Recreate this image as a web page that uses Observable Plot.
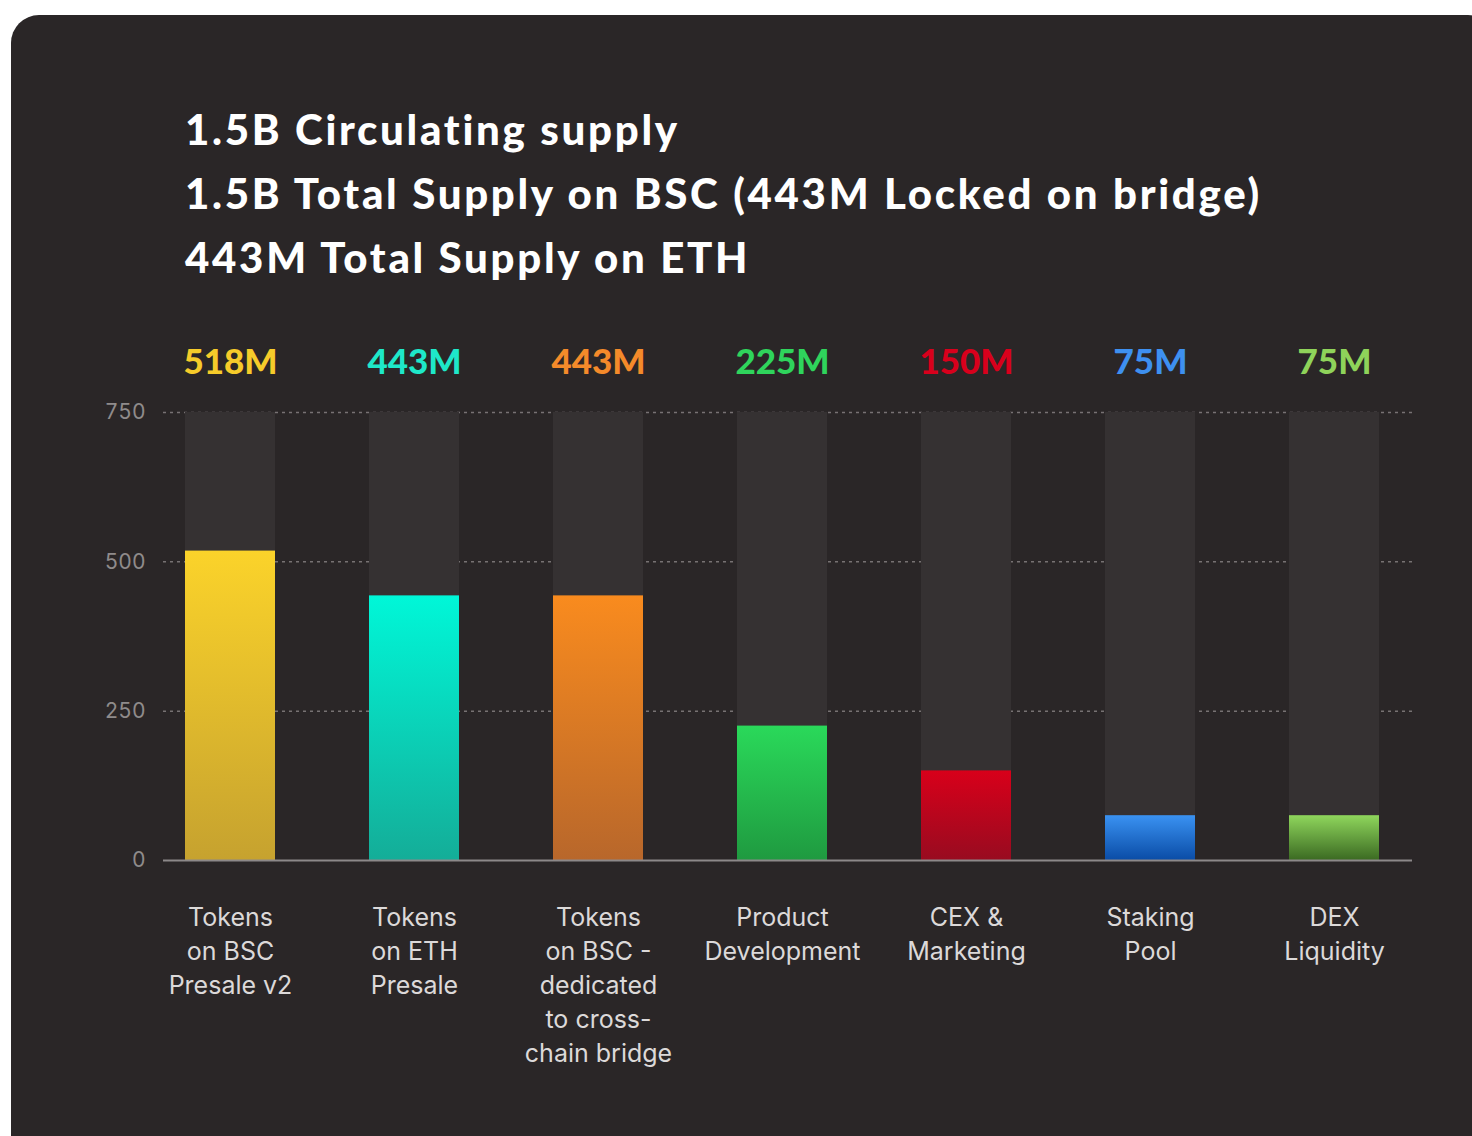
<!DOCTYPE html>
<html>
<head>
<meta charset="utf-8">
<script src="https://cdn.jsdelivr.net/npm/d3@7"></script>
<script src="https://cdn.jsdelivr.net/npm/@observablehq/plot@0.6"></script>
<style>
  html, body { margin: 0; padding: 0; background: #ffffff; width: 1472px; height: 1136px; overflow: hidden; }
  #card { position: absolute; left: 11px; top: 15px; width: 1485px; height: 1150px; background: #2a2627; border-radius: 28px; }
  #title { position: absolute; left: 185px; top: 97px; font-family: "Lato", sans-serif; font-weight: 900; font-size: 42px; line-height: 64px; color: #ffffff; letter-spacing: 2.7px; }
  #title div { white-space: nowrap; }
  #chart { position: absolute; left: 0; top: 300px; }
</style>
</head>
<body>
<div id="card"></div>
<div id="title">
  <div>1.5B Circulating supply</div>
  <div>1.5B Total Supply on BSC (443M Locked on bridge)</div>
  <div>443M Total Supply on ETH</div>
</div>
<div id="chart"></div>
<script>
const categories = ["bsc_v2", "eth_presale", "bsc_bridge", "product", "cex", "staking", "dex"];
const categoryLabels = [
  "Tokens\non BSC\nPresale v2",
  "Tokens\non ETH\nPresale",
  "Tokens\non BSC -\ndedicated\nto cross-\nchain bridge",
  "Product\nDevelopment",
  "CEX &\nMarketing",
  "Staking\nPool",
  "DEX\nLiquidity"
];
const values = [518, 443, 443, 225, 150, 75, 75];
const valueLabels = ["518M", "443M", "443M", "225M", "150M", "75M", "75M"];
const labelColors = ["#f6cb2a", "#1ee8c9", "#f48a2a", "#2fd45c", "#d8001c", "#3e90f0", "#8fd35a"];
const barTopColors = ["#fbd32a", "#00f7d8", "#f98b1e", "#2ad95a", "#d8001a", "#3a92f2", "#8fd65c"];
const barBottomColors = ["#c6a22f", "#14ad98", "#b8672b", "#1f9a40", "#980b20", "#0a4ca6", "#3b6a22"];
const yTicks = [0, 250, 500, 750];
const yMax = 750;

const data = categories.map((c, i) => ({
  cat: c, i, value: values[i], label: valueLabels[i], color: labelColors[i], text: categoryLabels[i]
}));
const labelOf = Object.fromEntries(categories.map((c, i) => [c, categoryLabels[i]]));

const chart = Plot.plot({
  width: 1472,
  height: 800,
  marginTop: 112,
  marginBottom: 240,
  marginLeft: 163,
  marginRight: 60,
  style: { background: "transparent", fontFamily: "Inter, sans-serif", overflow: "visible" },
  x: { domain: categories, paddingInner: 0.512, paddingOuter: 0.141, align: 0.4, axis: null, label: null },
  y: { domain: [0, yMax], axis: null, label: null },
  color: { type: "identity" },
  marks: [
    Plot.ruleY(yTicks.filter(t => t > 0), { stroke: "#777273", strokeWidth: 1.5, strokeDasharray: "3,4" }),
    Plot.barY(data, { x: "cat", y1: 0, y2: yMax, fill: "#353132" }),
    Plot.barY(data, { x: "cat", y: "value", fill: d => `url(#grad${d.i})` }),
    Plot.ruleY([0], { stroke: "#8c8889", strokeWidth: 2 }),
    Plot.text(data, { x: "cat", frameAnchor: "top", dy: -63, text: "label", fill: "color", fontSize: 35, fontWeight: 900, fontFamily: "Lato, sans-serif", letterSpacing: 1.2 }),
    Plot.axisX({ label: null, tickSize: 0, tickPadding: 41, fontSize: 25, lineHeight: 1.36, color: "#dcd9d9", letterSpacing: 1.8, tickFormat: d => labelOf[d] }),
    Plot.axisY({ label: null, ticks: yTicks, tickSize: 0, tickPadding: 18, fontSize: 21, color: "#8f8b8b" })
  ]
});

// vertical gradients for the value bars
const ns = "http://www.w3.org/2000/svg";
const defs = document.createElementNS(ns, "defs");
categories.forEach((c, i) => {
  const g = document.createElementNS(ns, "linearGradient");
  g.setAttribute("id", `grad${i}`);
  g.setAttribute("x1", "0"); g.setAttribute("y1", "0");
  g.setAttribute("x2", "0"); g.setAttribute("y2", "1");
  const s1 = document.createElementNS(ns, "stop");
  s1.setAttribute("offset", "0"); s1.setAttribute("stop-color", barTopColors[i]);
  const s2 = document.createElementNS(ns, "stop");
  s2.setAttribute("offset", "1"); s2.setAttribute("stop-color", barBottomColors[i]);
  g.appendChild(s1); g.appendChild(s2);
  defs.appendChild(g);
});
chart.insertBefore(defs, chart.firstChild);
document.getElementById("chart").appendChild(chart);
</script>
</body>
</html>
